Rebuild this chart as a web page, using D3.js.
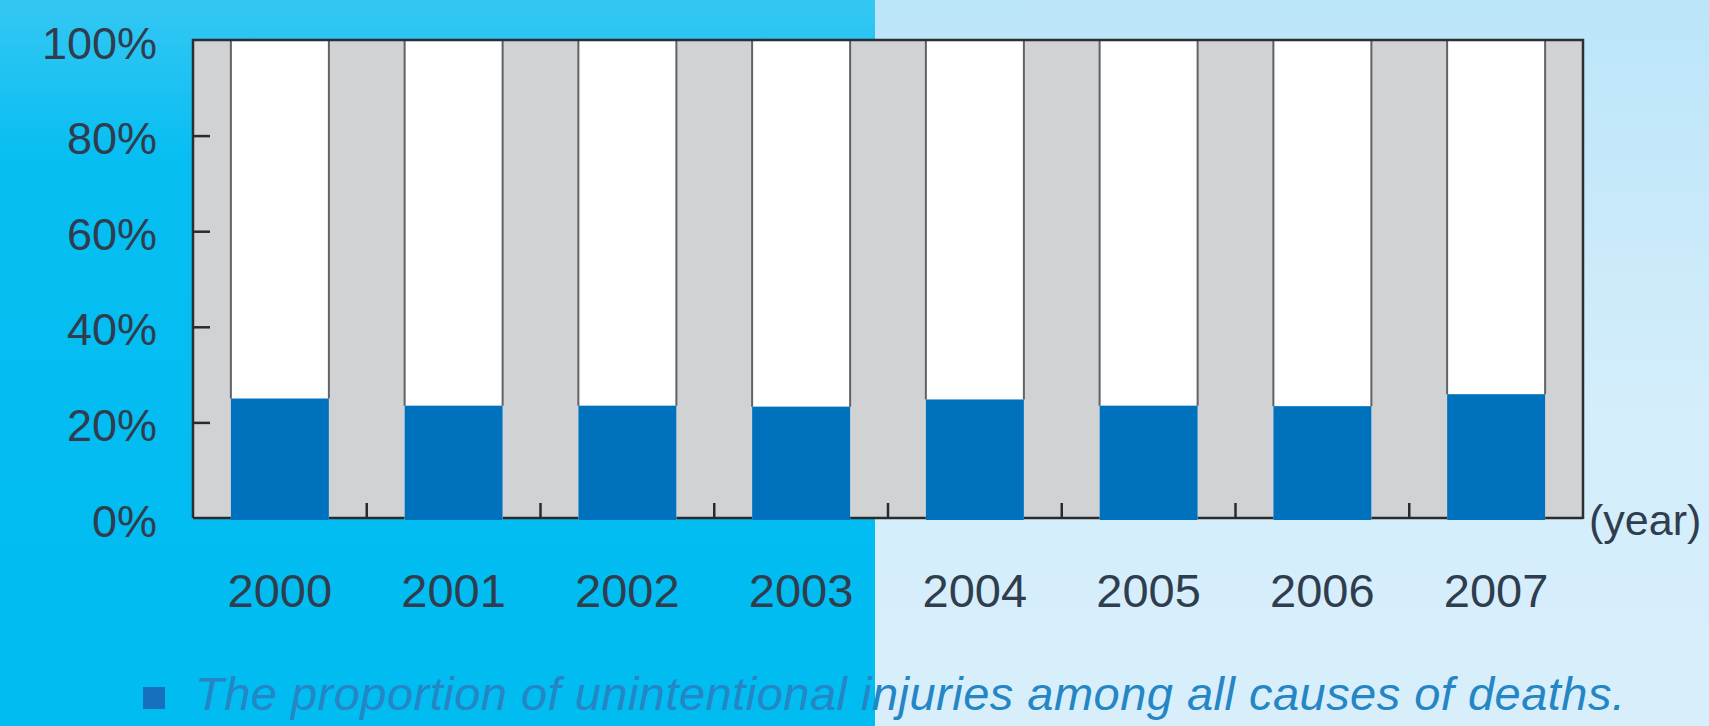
<!DOCTYPE html>
<html>
<head>
<meta charset="utf-8">
<script src="https://cdn.jsdelivr.net/npm/d3@7/dist/d3.min.js"></script>
<style>
  html, body { margin: 0; padding: 0; background: #00bdf2; }
  svg { display: block; }
  text { font-family: "Liberation Sans", Arial, Helvetica, sans-serif; }
</style>
</head>
<body>
<svg id="chart" width="1709" height="726"></svg>
<script>
// data
var years = ["2000", "2001", "2002", "2003", "2004", "2005", "2006", "2007"];
var shares = [25.0, 23.5, 23.5, 23.3, 24.8, 23.5, 23.4, 25.9];
var yTicks = [0, 20, 40, 60, 80, 100];
var unitLabel = "(year)";
var note = "The proportion of unintentional injuries among all causes of deaths.";

var width = 1709, height = 726;
var margin = {top: 40, left: 193, right: 126, bottom: 208};
var innerW = width - margin.left - margin.right;
var innerH = height - margin.top - margin.bottom;

var svg = d3.select("#chart");

// background: two panels
var defs = svg.append("defs");
var gl = defs.append("linearGradient").attr("id", "bgLeft")
    .attr("x1", 0).attr("y1", 0).attr("x2", 0).attr("y2", 1);
gl.append("stop").attr("offset", "0%").attr("stop-color", "#35c7f3");
gl.append("stop").attr("offset", "22%").attr("stop-color", "#06bef2");
gl.append("stop").attr("offset", "100%").attr("stop-color", "#00bcf1");
var gr = defs.append("linearGradient").attr("id", "bgRight")
    .attr("x1", 0).attr("y1", 0).attr("x2", 0).attr("y2", 1);
gr.append("stop").attr("offset", "0%").attr("stop-color", "#bbe5f9");
gr.append("stop").attr("offset", "55%").attr("stop-color", "#d3edfb");
gr.append("stop").attr("offset", "100%").attr("stop-color", "#d8effb");

var split = 875;
svg.append("rect").attr("x", 0).attr("y", 0).attr("width", split).attr("height", height)
    .attr("fill", "url(#bgLeft)");
svg.append("rect").attr("x", split).attr("y", 0).attr("width", width - split).attr("height", height)
    .attr("fill", "url(#bgRight)");

var g = svg.append("g").attr("transform", "translate(" + margin.left + "," + margin.top + ")");

var x = d3.scaleBand().domain(years).range([0, innerW])
    .paddingInner(0.436).paddingOuter(0.218);
var y = d3.scaleLinear().domain([0, 100]).range([innerH, 0]);

// grey plot area
g.append("rect").attr("x", 0).attr("y", 0).attr("width", innerW).attr("height", innerH)
    .attr("fill", "#d0d2d4");

// baseline (covered by the bars)
g.append("line").attr("x1", 0).attr("x2", innerW).attr("y1", y(0)).attr("y2", y(0))
    .attr("stroke", "#2a2a2a").attr("stroke-width", 2.5);

// ticks on x between the years
var step = x.step();
var xt = d3.range(1, years.length);
g.selectAll(".xtick").data(xt).enter().append("line")
    .attr("class", "xtick")
    .attr("x1", function(d) { return d * step; })
    .attr("x2", function(d) { return d * step; })
    .attr("y1", y(0)).attr("y2", y(0) - 15)
    .attr("stroke", "#2a2a2a").attr("stroke-width", 2.5);

var bars = g.selectAll(".bar").data(years).enter().append("g").attr("class", "bar");

// full white column
bars.append("rect")
    .attr("x", function(d) { return x(d); })
    .attr("y", y(100))
    .attr("width", x.bandwidth())
    .attr("height", innerH + 2)
    .attr("fill", "#ffffff");

// dark side edges on the white part
bars.append("path")
    .attr("d", function(d, i) {
        var x0 = x(d), x1 = x(d) + x.bandwidth(), yt = y(shares[i]);
        return "M" + x0 + "," + y(100) + "V" + yt + "M" + x1 + "," + y(100) + "V" + yt;
    })
    .attr("stroke", "#5f6366").attr("stroke-width", 2).attr("fill", "none");

// blue share
bars.append("rect")
    .attr("x", function(d) { return x(d); })
    .attr("y", function(d, i) { return y(shares[i]); })
    .attr("width", x.bandwidth())
    .attr("height", function(d, i) { return y(0) - y(shares[i]) + 2; })
    .attr("fill", "#0071bc");

// frame: top, left, right
g.append("path")
    .attr("d", "M0," + y(0) + "V" + y(100) + "H" + innerW + "V" + (y(0) + 1))
    .attr("fill", "none").attr("stroke", "#2a2f33").attr("stroke-width", 2.5);

// y axis with inner ticks
var yAxis = d3.axisLeft(y).tickValues(yTicks).tickSize(-17).tickPadding(36)
    .tickFormat(function(d) { return d + "%"; });
var ya = g.append("g").call(yAxis);
ya.select(".domain").remove();
ya.selectAll(".tick line").attr("stroke", "#2a2a2a").attr("stroke-width", 2.5)
    .filter(function(d) { return d === 0 || d === 100; }).remove();
ya.selectAll(".tick text")
    .attr("font-size", 45).attr("fill", "#2f3d4e").attr("dy", "0.4em")
    .style("font-family", "'Liberation Sans', Arial, sans-serif");

// x labels
var xAxis = d3.axisBottom(x).tickSize(0).tickPadding(0);
var xa = g.append("g").attr("transform", "translate(0," + innerH + ")").call(xAxis);
xa.select(".domain").remove();
xa.selectAll(".tick text")
    .attr("font-size", 47).attr("fill", "#2f3d4e").attr("dy", 0).attr("y", 89)
    .style("font-family", "'Liberation Sans', Arial, sans-serif");

// unit label
g.append("text")
    .attr("x", innerW + 6).attr("y", innerH + 17)
    .attr("font-size", 43).attr("fill", "#2f3d4e")
    .text(unitLabel);

// note at the bottom
svg.append("rect").attr("x", 143).attr("y", 687).attr("width", 22).attr("height", 22)
    .attr("fill", "#1670bd");
svg.append("text")
    .attr("x", 195).attr("y", 710)
    .attr("font-size", 47).attr("font-style", "italic")
    .attr("fill", "#2486c4")
    .attr("textLength", 1430).attr("lengthAdjust", "spacing")
    .text(note);
</script>
</body>
</html>
